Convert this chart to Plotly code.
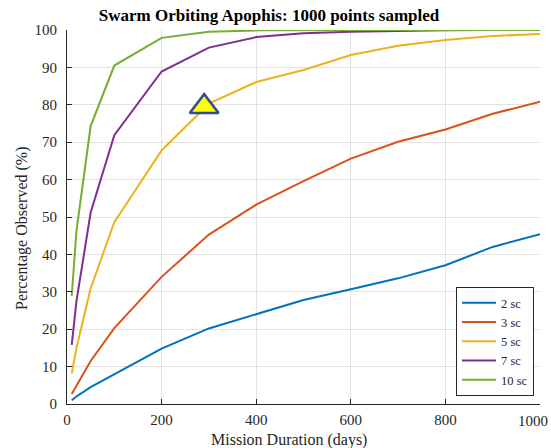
import plotly.graph_objects as go

days = [10, 20, 50, 100, 200, 300, 400, 500, 600, 700, 800, 900, 1000]
sc2 = [1.0, 2.0, 4.5, 8.0, 14.8, 20.2, 24.0, 27.8, 30.7, 33.6, 37.1, 42.0, 45.4]
sc3 = [2.7, 5.0, 11.5, 20.3, 34.0, 45.3, 53.3, 59.6, 65.6, 70.1, 73.4, 77.6, 80.8]
sc5 = [8.2, 15.0, 30.9, 48.6, 67.8, 80.3, 86.1, 89.3, 93.3, 95.8, 97.3, 98.4, 98.9]
sc7 = [15.8, 27.5, 51.2, 71.9, 88.9, 95.3, 98.1, 99.1, 99.5, 99.8, 99.9, 100.0, 100.0]
sc10 = [28.9, 46.3, 74.3, 90.5, 97.9, 99.5, 99.9, 100.0, 100.0, 100.0, 100.0, 100.0, 100.0]

series_names = ["2 sc", "3 sc", "5 sc", "7 sc", "10 sc"]
series_vals = [sc2, sc3, sc5, sc7, sc10]
colors = ["#0072BD", "#D95319", "#EDB120", "#7E2F8E", "#77AC30"]

marker_x = [290]
marker_y = [79.5]

x_ticks = [0, 200, 400, 600, 800, 1000]
x_tick_labels = ["0", "200", "400", "600", "800", "1000"]
y_ticks = [0, 10, 20, 30, 40, 50, 60, 70, 80, 90, 100]

FONT = "Liberation Serif, Times New Roman, serif"
INK = "#262626"

fig = go.Figure()
for name, vals, c in zip(series_names, series_vals, colors):
    fig.add_trace(go.Scatter(x=days, y=vals, mode="lines", name=name,
                             line=dict(color=c, width=2)))

fig.add_trace(go.Scatter(x=marker_x, y=marker_y, mode="markers", showlegend=False,
                         marker=dict(symbol="triangle-up", size=25, color="#FFFF00",
                                     line=dict(color="#2F4F8F", width=2.5))))

# last x tick label drawn as an annotation so it can sit flush with the right edge
shown_tick_text = x_tick_labels[:-1] + [""]

fig.update_layout(
    width=551, height=448,
    margin=dict(l=67, r=11, t=30, b=44, autoexpand=False),
    paper_bgcolor="white", plot_bgcolor="white",
    font=dict(family=FONT, color=INK, size=15),
    title=dict(text="<b>Swarm Orbiting Apophis: 1000 points sampled</b>",
               x=269 / 551, xref="container", xanchor="center",
               y=1 - 15 / 448, yref="container", yanchor="middle",
               font=dict(family=FONT, size=17, color="black")),
    showlegend=True,
    legend=dict(x=(534 - 67) / 473, y=(404 - 396) / 374, xanchor="right", yanchor="bottom",
                bgcolor="white", bordercolor=INK, borderwidth=1,
                font=dict(family=FONT, size=12.5, color=INK),
                tracegroupgap=0, itemwidth=34),
    annotations=[
        dict(text=x_tick_labels[-1], xref="x", yref="paper", x=x_ticks[-1], y=0,
             xanchor="right", yanchor="top", yshift=-7, xshift=10, showarrow=False,
             font=dict(family=FONT, size=15, color=INK)),
        dict(text="Mission Duration (days)", xref="paper", yref="paper",
             x=(289 - 67) / 473, y=(404 - 440) / 374, xanchor="center", yanchor="middle",
             showarrow=False, font=dict(family=FONT, size=16, color=INK)),
        dict(text="Percentage Observed (%)", xref="paper", yref="paper",
             x=(22 - 67) / 473, y=(404 - 229) / 374, xanchor="center", yanchor="middle",
             textangle=-90, showarrow=False, font=dict(family=FONT, size=16, color=INK)),
    ],
)
fig.update_xaxes(range=[0, 1000], tickvals=x_ticks, ticktext=shown_tick_text,
                 showgrid=True, gridcolor="#E3E3E3",
                 showline=True, linecolor=INK, linewidth=1, ticks="inside", ticklen=5,
                 tickcolor=INK, zeroline=False, tickfont=dict(size=15, color=INK),
                 automargin=False, ticklabeloverflow="allow", ticklabelstandoff=2)
fig.update_yaxes(range=[0, 100], tickvals=y_ticks, showgrid=True, gridcolor="#E3E3E3",
                 showline=True, linecolor=INK, linewidth=1, ticks="inside", ticklen=5,
                 tickcolor=INK, zeroline=False, tickfont=dict(size=15, color=INK),
                 automargin=False, ticklabeloverflow="allow", ticklabelstandoff=6)

fig.write_html("out.html", config={"displayModeBar": False},
               post_script="document.body.style.margin='0';")
